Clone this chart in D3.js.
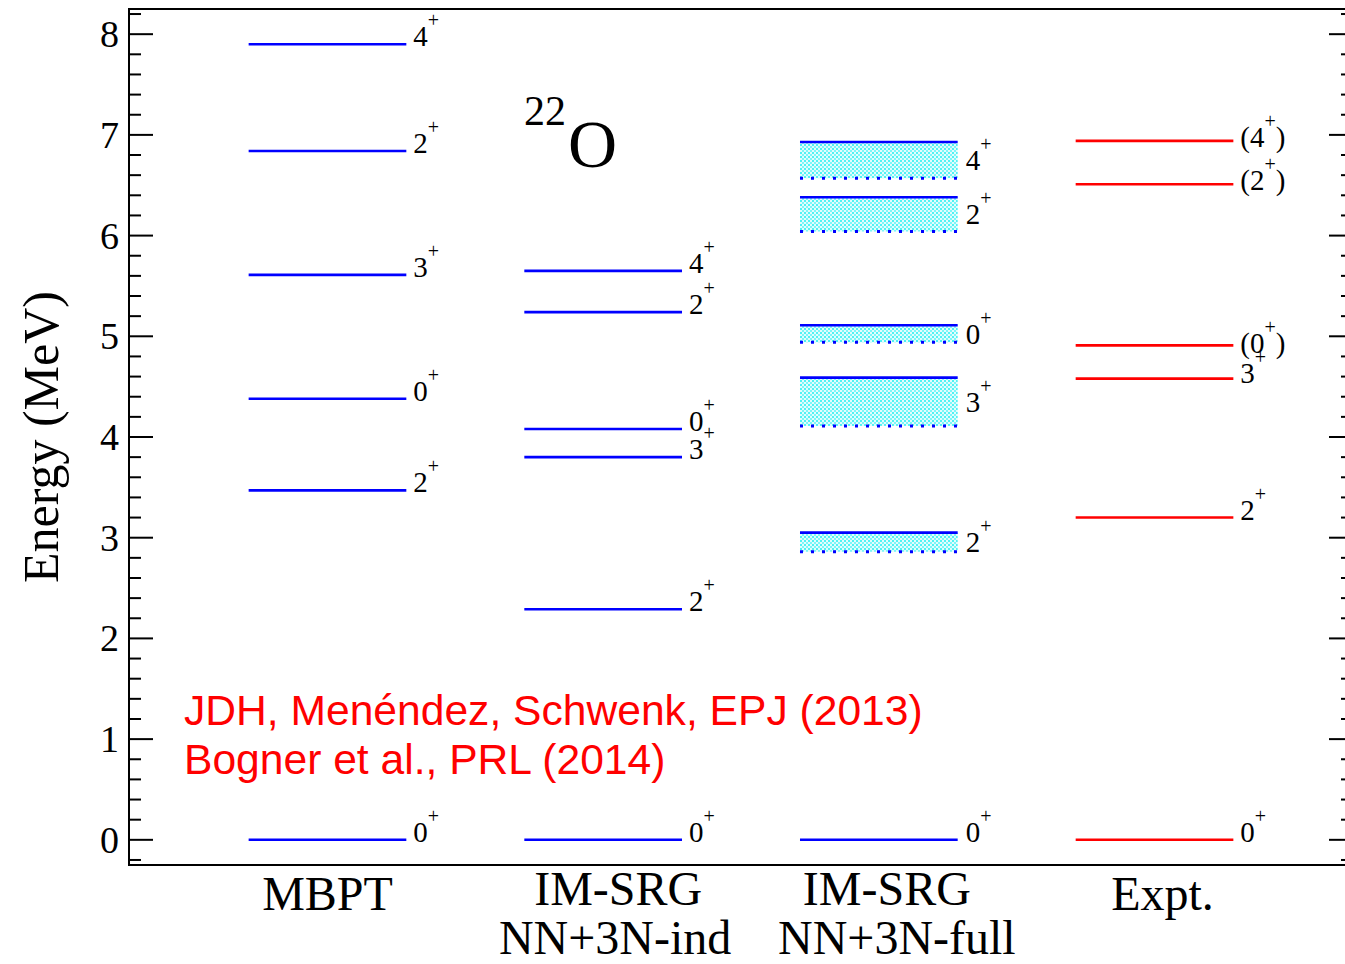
<!DOCTYPE html>
<html>
<head>
<meta charset="utf-8">
<script src="https://cdn.jsdelivr.net/npm/d3@7/dist/d3.min.js"></script>
<style>
  html, body { margin: 0; padding: 0; background: #fff; }
  svg { display: block; }
</style>
</head>
<body>
<svg id="chart" width="1345" height="964"></svg>
<script>
// ---- data ----
const methodNames = [["MBPT"], ["IM-SRG", "NN+3N-ind"], ["IM-SRG", "NN+3N-full"], ["Expt."]];

const mbptEnergy = [0, 3.47, 4.38, 5.61, 6.84, 7.90];
const mbptSpin   = ["0", "2", "0", "3", "2", "4"];

const indEnergy = [0, 2.29, 3.80, 4.08, 5.24, 5.65];
const indSpin   = ["0", "2", "3", "0", "2", "4"];

// IM-SRG full: upper and lower edge of each band
const fullUpper = [0, 3.05, 4.59, 5.11, 6.38, 6.93];
const fullLower = [0, 2.86, 4.11, 4.94, 6.04, 6.57];
const fullSpin  = ["0", "2", "3", "0", "2", "4"];

const exptEnergy    = [0, 3.20, 4.58, 4.91, 6.51, 6.94];
const exptSpin      = ["0", "2", "3", "0", "2", "4"];
const exptTentative = [false, false, false, true, true, true];

const yTicks = [0, 1, 2, 3, 4, 5, 6, 7, 8];
const refLines = ["JDH, Menéndez, Schwenk, EPJ (2013)", "Bogner et al., PRL (2014)"];

// ---- layout ----
const svg = d3.select("#chart");
const plotL = 129, plotR = 1353, plotT = 9, plotB = 865;
const serif = "'Liberation Serif', 'Times New Roman', serif";
const sans = "'Liberation Sans', Arial, sans-serif";
const BLUE = "#0000ff", RED = "#ff0000";

const y = d3.scaleLinear().domain([-0.25, 8.25]).range([plotB, plotT]);
const x = d3.scaleLinear().domain([0.28, 4.72]).range([plotL, plotR]);
const halfW = 0.286;

// dotted cyan fill for the bands
const defs = svg.append("defs");
const pat = defs.append("pattern").attr("id", "dots")
  .attr("patternUnits", "userSpaceOnUse").attr("width", 4).attr("height", 4);
pat.append("rect").attr("width", 4).attr("height", 4).attr("fill", "#e2fdfd");
pat.append("rect").attr("width", 2).attr("height", 2).attr("fill", "#50f2f4");
pat.append("rect").attr("x", 2).attr("y", 2).attr("width", 2).attr("height", 2).attr("fill", "#7cf6f8");

// frame
svg.append("rect").attr("x", plotL).attr("y", plotT)
  .attr("width", plotR - plotL).attr("height", plotB - plotT)
  .attr("fill", "none").attr("stroke", "#000").attr("stroke-width", 2);

// ticks (inward on both sides)
const minor = d3.range(-1, 42).map(i => i * 0.2).filter(v => Math.abs(v - Math.round(v)) > 1e-6 && v > -0.25 && v < 8.25);
const tickG = svg.append("g").attr("stroke", "#000").attr("stroke-width", 2);
yTicks.forEach(v => {
  tickG.append("line").attr("x1", plotL).attr("x2", plotL + 24).attr("y1", y(v)).attr("y2", y(v));
  tickG.append("line").attr("x1", plotR).attr("x2", plotR - 24).attr("y1", y(v)).attr("y2", y(v));
});
minor.forEach(v => {
  tickG.append("line").attr("x1", plotL).attr("x2", plotL + 12).attr("y1", y(v)).attr("y2", y(v));
  tickG.append("line").attr("x1", plotR).attr("x2", plotR - 12).attr("y1", y(v)).attr("y2", y(v));
});

svg.append("g").selectAll("text").data(yTicks).join("text")
  .attr("x", plotL - 10).attr("y", d => y(d) + 13)
  .attr("text-anchor", "end")
  .attr("font-family", serif).attr("font-size", 38)
  .text(d => d);

// axis title
svg.append("text")
  .attr("transform", `translate(58, ${y(4)}) rotate(-90)`)
  .attr("text-anchor", "middle")
  .attr("font-family", serif).attr("font-size", 50)
  .text("Energy (MeV)");

// category labels
const catDx = [[0], [15, 12], [8, 18], [8]];
methodNames.forEach((lines, i) => {
  const t = svg.append("text")
    .attr("text-anchor", "middle")
    .attr("font-family", serif).attr("font-size", 48);
  lines.forEach((s, j) => {
    t.append("tspan").attr("x", x(i + 1) + catDx[i][j])
      .attr("y", (lines.length === 1 ? 910 : 905) + j * 49)
      .text(s);
  });
});

// level label with superscript parity
function spinLabel(g, xPos, yBase, spin, tentative) {
  const t = g.append("text").attr("x", xPos).attr("y", yBase)
    .attr("font-family", serif).attr("font-size", 29);
  if (tentative) t.append("tspan").text("(");
  t.append("tspan").text(spin);
  t.append("tspan").attr("font-size", 20).attr("dy", -19).text("+");
  if (tentative) t.append("tspan").attr("dy", 19).text(")");
}

function levels(cat, energies, spins, color, tentative, labelDy) {
  const g = svg.append("g");
  g.selectAll("line").data(energies).join("line")
    .attr("x1", x(cat - halfW)).attr("x2", x(cat + halfW))
    .attr("y1", d => y(d)).attr("y2", d => y(d))
    .attr("stroke", color).attr("stroke-width", 2.6);
  energies.forEach((e, i) => {
    spinLabel(g, x(cat + halfW) + 7, y(e) + (labelDy ? labelDy[i] : 2), spins[i], tentative ? tentative[i] : false);
  });
}

levels(1, mbptEnergy, mbptSpin, BLUE);
levels(2, indEnergy, indSpin, BLUE);
levels(4, exptEnergy, exptSpin, RED, exptTentative, [2, 2, 4, 8, 6, 6]);

// IM-SRG full: bands between lower and upper estimate
const fg = svg.append("g");
fullUpper.forEach((u, i) => {
  const l = fullLower[i];
  if (u > l) {
    fg.append("rect").attr("x", x(3 - halfW)).attr("y", y(u))
      .attr("width", x(3 + halfW) - x(3 - halfW)).attr("height", y(l) - y(u))
      .attr("fill", "url(#dots)");
    fg.append("line").attr("x1", x(3 - halfW)).attr("x2", x(3 + halfW))
      .attr("y1", y(l)).attr("y2", y(l))
      .attr("stroke", BLUE).attr("stroke-width", 3).attr("stroke-dasharray", "3,8");
  }
  fg.append("line").attr("x1", x(3 - halfW)).attr("x2", x(3 + halfW))
    .attr("y1", y(u)).attr("y2", y(u))
    .attr("stroke", BLUE).attr("stroke-width", 2.6);
  const base = u > l ? (y(u) + y(l)) / 2 + 10 : y(u) + 2;
  spinLabel(fg, x(3 + halfW) + 8, base, fullSpin[i], false);
});

// nucleus label
const nuc = svg.append("text").attr("x", 524).attr("y", 125).attr("font-family", serif);
nuc.append("tspan").attr("font-size", 42).text("22");
nuc.append("tspan").attr("font-size", 68).attr("dx", 2).attr("dy", 42).text("O");

// references
svg.append("g").selectAll("text").data(refLines).join("text")
  .attr("x", 184).attr("y", (d, i) => 725 + i * 49)
  .attr("font-family", sans).attr("font-size", 42.6).attr("fill", RED)
  .text(d => d);
</script>
</body>
</html>
